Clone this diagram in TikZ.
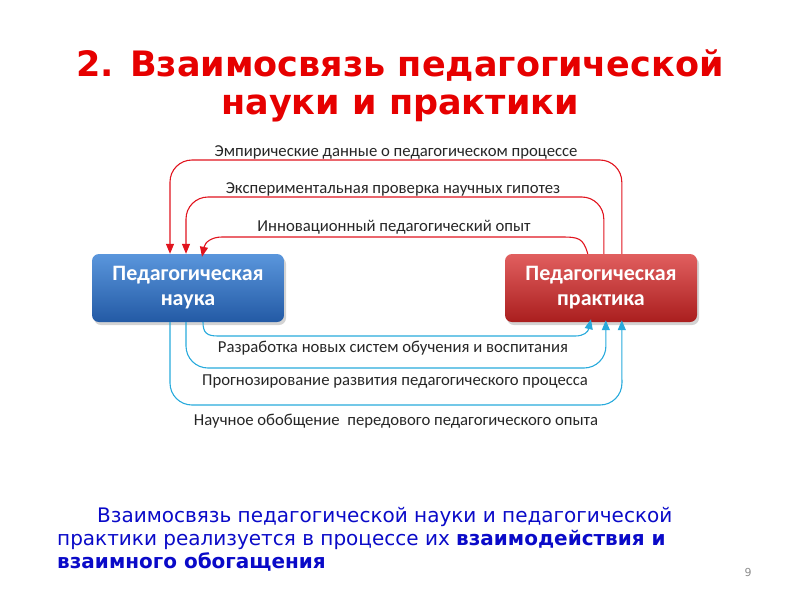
\documentclass[tikz,border=0pt]{standalone}
\usepackage{fontspec}
\setmainfont{DejaVu Sans}
\newfontfamily\lblfont{Carlito}
\usetikzlibrary{arrows.meta,shadows,calc}
\definecolor{titlered}{RGB}{230,0,0}
\definecolor{txtblue}{RGB}{10,10,200}
\definecolor{arrred}{RGB}{225,20,30}
\definecolor{arrcyan}{RGB}{40,170,220}
\definecolor{boxbluetop}{RGB}{90,150,220}
\definecolor{boxbluebot}{RGB}{35,90,165}
\definecolor{boxredtop}{RGB}{225,95,95}
\definecolor{boxredbot}{RGB}{170,30,30}
\tikzset{
  mainbox/.style={rounded corners=7pt, minimum width=192pt, minimum height=68pt,
    align=center, text=white, font=\lblfont\bfseries\fontsize{22}{25}\selectfont,
    drop shadow={shadow xshift=2pt,shadow yshift=-3pt,opacity=0.35}},
  redlink/.style={draw=arrred, line width=1.1pt, rounded corners=22pt,
    -{Triangle[length=10pt,width=8pt]}},
  bluelink/.style={draw=arrcyan, line width=1.1pt, rounded corners=22pt,
    -{Triangle[length=10pt,width=8pt]}},
  lbl/.style={font=\lblfont\fontsize{16.7}{19}\selectfont, text=black!85, inner sep=0pt},
  para/.style={anchor=base west, inner sep=0pt, text=txtblue, font=\fontsize{20}{23}\selectfont},
}
\begin{document}
\begin{tikzpicture}[x=1pt,y=-1pt]
\useasboundingbox (0,0) rectangle (800,600);
\node[font=\bfseries\fontsize{35}{38}\selectfont, text=titlered, align=center] (title) at (400,86)
  {2. Взаимосвязь педагогической\\науки и практики};

\node[mainbox, top color=boxbluetop, bottom color=boxbluebot] (sci) at (188,288) {Педагогическая\\наука};
\node[mainbox, top color=boxredtop, bottom color=boxredbot] (prac) at (601,288) {Педагогическая\\практика};

% red arrows (practice -> science)
\draw[redlink] ([xshift=117pt]prac.north west) |- (170,160) -- ([xshift=-18pt]sci.north);
\draw[redlink] ([xshift=99pt]prac.north west) |- (186,197) -- ([xshift=-2pt]sci.north);
\draw[draw=arrred, line width=1.1pt, -{Triangle[length=10pt,width=8pt]}]
  ([xshift=83pt]prac.north west) .. controls (583,238) and (579,237) .. (561,237)
  -- (222,237) .. controls (212,237) and (205,242) .. ([xshift=14pt,yshift=-3pt]sci.north);

\node[lbl] (l1) at (396,152) {Эмпирические данные о педагогическом процессе};
\node[lbl] (l2) at (393,189) {Экспериментальная проверка научных гипотез};
\node[lbl] (l3) at (394,227) {Инновационный педагогический опыт};

% blue arrows (science -> practice)
\draw[bluelink] ([xshift=-18pt]sci.south) |- (622,405) -- ([xshift=117pt,yshift=2pt]prac.south west);
\draw[bluelink] ([xshift=-2pt]sci.south) |- (606,368) -- ([xshift=101pt,yshift=2pt]prac.south west);
\draw[draw=arrcyan, line width=1.1pt, -{Triangle[length=10pt,width=8pt]}]
  ([xshift=15pt]sci.south) .. controls (203,333) and (207,336) .. (218,336)
  -- (575,336) .. controls (584,336) and (588,332) .. ([xshift=-10pt,yshift=3pt]prac.south);

\node[lbl] (l4) at (393,348) {Разработка новых систем обучения и воспитания};
\node[lbl] (l5) at (395,382) {Прогнозирование развития педагогического процесса};
\node[lbl] (l6) at (396,421) {Научное обобщение\ \ передового педагогического опыта};

% bottom text
\node[para] (p1) at (97,522) {Взаимосвязь педагогической науки и педагогической};
\node[para] (p2) at (57,545) {практики реализуется в процессе их \textbf{взаимодействия и}};
\node[para] (p3) at (57,568) {\textbf{взаимного обогащения}};
\node[text=black!45, font=\fontsize{11}{13}\selectfont] (pg) at (748,572) {9};
\end{tikzpicture}
\end{document}
